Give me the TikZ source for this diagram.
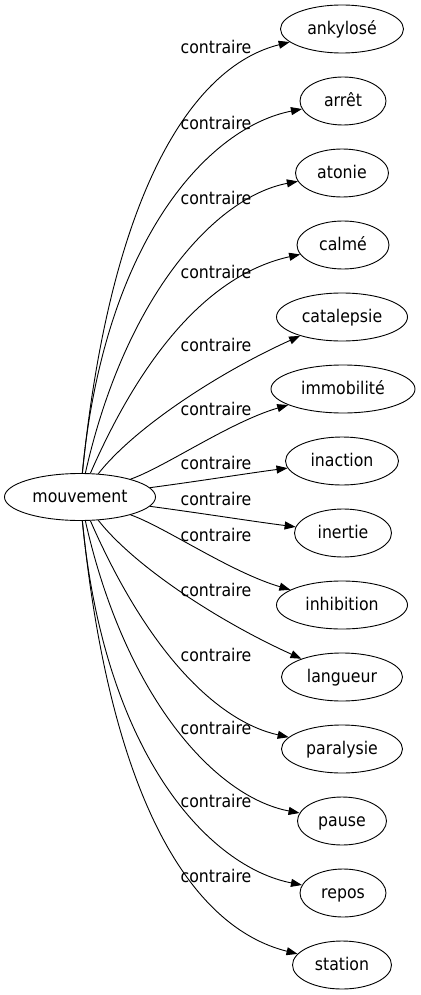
\documentclass[tikz,border=0pt]{standalone}
\usepackage{fontspec}
\setmainfont{DejaVu Sans}[FakeStretch=0.9]
\usetikzlibrary{arrows.meta,shapes.geometric}

\tikzset{
  word/.style={draw, ellipse, minimum height=48pt, inner sep=0pt, line width=0.9pt,
    text height=13.5pt, text depth=3pt, font=\fontsize{17.5}{20}\selectfont},
  rel/.style={inner sep=0pt, text height=13.5pt, text depth=3pt,
    font=\fontsize{17.5}{20}\selectfont},
  link/.style={->, line width=0.9pt},
}

\begin{document}
\begin{tikzpicture}[x=1pt, y=-1pt, >={Triangle[length=11pt,width=8pt]}]
\useasboundingbox (0,0) rectangle (420,995);

% Words
\node[word, minimum width=151pt, minimum height=47pt] (mouvement) at (80,497) {mouvement};
\node[word, minimum width=123pt] (ankylose) at (342,29) {ankylosé};
\node[word, minimum width=86pt] (arret) at (343,101) {arrêt};
\node[word, minimum width=93pt] (atonie) at (342,173) {atonie};
\node[word, minimum width=92pt] (calme) at (343,245) {calmé};
\node[word, minimum width=131pt] (catalepsie) at (342,317) {catalepsie};
\node[word, minimum width=144pt] (immobilite) at (343,389) {immobilité};
\node[word, minimum width=113pt] (inaction) at (342,461) {inaction};
\node[word, minimum width=97pt] (inertie) at (343,533) {inertie};
\node[word, minimum width=131pt] (inhibition) at (342,605) {inhibition};
\node[word, minimum width=121pt] (langueur) at (342,677) {langueur};
\node[word, minimum width=121pt] (paralysie) at (342,749) {paralysie};
\node[word, minimum width=89pt] (pause) at (342,821) {pause};
\node[word, minimum width=86pt] (repos) at (343,893) {repos};
\node[word, minimum width=99pt] (station) at (342,965) {station};

% Links
\draw[link] (mouvement) .. controls (110,197) and (190,67) .. (ankylose);
\draw[link] (mouvement) .. controls (105,237) and (210,127) .. (arret);
\draw[link] (mouvement) .. controls (125,297) and (215,197) .. (atonie);
\draw[link] (mouvement) .. controls (150,337) and (220,272) .. (calme);
\draw[link] (mouvement) .. controls (135,427) and (220,372) .. (catalepsie);
\draw[link] (mouvement) .. controls (165,467) and (230,422) .. (immobilite);
\draw[link] (mouvement) .. controls (200,481) and (250,473) .. (inaction);
\draw[link] (mouvement) .. controls (200,513) and (250,521) .. (inertie);
\draw[link] (mouvement) .. controls (165,527) and (230,572) .. (inhibition);
\draw[link] (mouvement) .. controls (135,567) and (220,622) .. (langueur);
\draw[link] (mouvement) .. controls (150,657) and (220,722) .. (paralysie);
\draw[link] (mouvement) .. controls (125,697) and (215,797) .. (pause);
\draw[link] (mouvement) .. controls (105,757) and (210,867) .. (repos);
\draw[link] (mouvement) .. controls (110,797) and (190,927) .. (station);

% Labels
\node[rel] (r-ankylose) at (216,48) {contraire};
\node[rel] (r-arret) at (216,124) {contraire};
\node[rel] (r-atonie) at (216,199) {contraire};
\node[rel] (r-calme) at (216,273) {contraire};
\node[rel] (r-catalepsie) at (216,346) {contraire};
\node[rel] (r-immobilite) at (216,410) {contraire};
\node[rel] (r-inaction) at (216,464) {contraire};
\node[rel] (r-inertie) at (216,500) {contraire};
\node[rel] (r-inhibition) at (216,536) {contraire};
\node[rel] (r-langueur) at (216,591) {contraire};
\node[rel] (r-paralysie) at (216,656) {contraire};
\node[rel] (r-pause) at (216,729) {contraire};
\node[rel] (r-repos) at (216,802) {contraire};
\node[rel] (r-station) at (216,877) {contraire};
\end{tikzpicture}
\end{document}
